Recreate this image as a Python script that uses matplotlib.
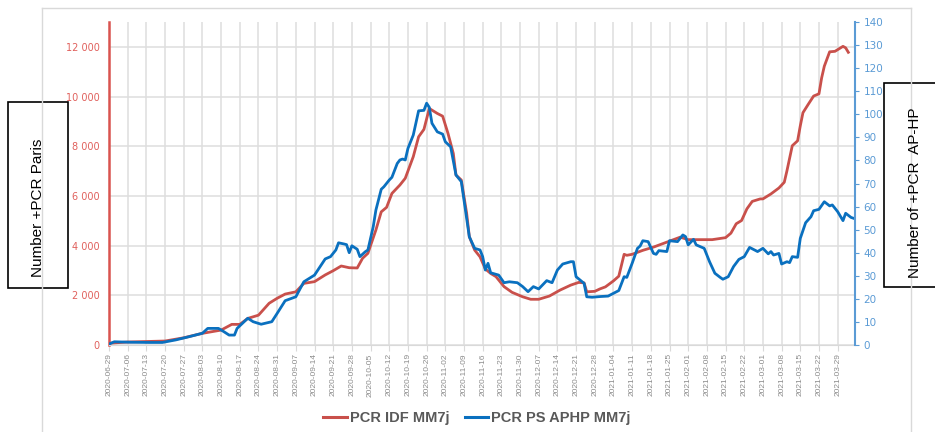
import matplotlib
matplotlib.use('Agg')
import matplotlib.pyplot as plt
import matplotlib.ticker as mticker
from matplotlib.patches import Rectangle
from matplotlib.lines import Line2D
import pandas as pd

start = pd.Timestamp('2020-06-29')

# PCR IDF MM7j (left axis) - days since 2020-06-29
idf_days = [0, 7, 14, 21, 28, 35, 42, 46, 49, 52, 56, 60, 63, 66, 70, 73, 77, 81, 84, 87,
            90, 93, 95, 97, 100, 102, 104, 106, 109, 111, 114, 116, 118, 120, 123, 125, 127,
            129, 130, 132, 134, 135, 137, 139, 141, 143, 145, 148, 151, 155, 158, 161, 165,
            169, 173, 176, 178, 179, 182, 184, 186, 189, 191, 193, 194, 196, 200, 204, 209,
            214, 217, 221, 226, 231, 233, 235, 237, 239, 241, 244, 245, 248, 251, 253, 254,
            256, 258, 259, 260, 262, 264, 266, 267, 268, 270, 272, 275, 276, 277]
idf_vals = [70, 120, 140, 160, 290, 470, 600, 830, 830, 1070, 1200, 1680, 1880, 2050, 2140,
            2480, 2550, 2820, 2990, 3180, 3110, 3100, 3490, 3690, 4630, 5360, 5540, 6100,
            6440, 6710, 7580, 8380, 8680, 9520, 9320, 9210, 8520, 7710, 6840, 6640, 5300,
            4360, 3820, 3550, 3060, 2880, 2750, 2350, 2120, 1940, 1840, 1840, 1970, 2210,
            2410, 2520, 2500, 2140, 2160, 2260, 2340, 2580, 2770, 3650, 3610, 3650, 3810,
            3940, 4140, 4340, 4240, 4240, 4240, 4320, 4500, 4880, 5010, 5480, 5780, 5880,
            5880, 6080, 6320, 6550, 7010, 8020, 8220, 8820, 9350, 9690, 10020, 10110, 10750,
            11220, 11800, 11820, 12020, 11960, 11780]

# PCR PS APHP MM7j (right axis)
aphp_days = [0, 2, 8, 15, 20, 25, 30, 35, 37, 41, 43, 45, 47, 48, 52, 54, 57, 61, 63, 66, 70,
             73, 77, 81, 83, 85, 86, 88, 89, 90, 91, 93, 94, 96, 97, 99, 100, 102, 103, 105,
             106, 108, 109, 110, 111, 112, 114, 116, 118, 119, 120, 121, 123, 125, 126, 128,
             130, 132, 135, 137, 139, 140, 141, 142, 143, 146, 148, 150, 153, 155, 157, 159,
             161, 164, 166, 168, 170, 173, 174, 175, 178, 179, 181, 184, 187, 189, 191, 193,
             194, 196, 198, 199, 200, 202, 204, 205, 206, 209, 210, 213, 215, 216, 217, 219,
             220, 223, 225, 227, 229, 230, 232, 234, 236, 238, 240, 243, 245, 247, 248, 249,
             251, 252, 254, 255, 256, 258, 259, 261, 263, 264, 266, 268, 270, 271, 273, 275,
             276, 278, 279]
aphp_vals = [0.4, 1.4, 1.2, 1.1, 1.1, 2.2, 3.6, 5.1, 7.2, 7.2, 5.8, 4.3, 4.3, 7.2, 11.6, 10.1,
             9.0, 10.1, 13.7, 19.2, 20.9, 27.4, 30.3, 37.3, 38.3, 41.2, 44.3, 43.8, 43.5, 40,
             43, 41.5, 38.3, 40.4, 41.2, 51.3, 58.5, 67.5, 68.6, 71.5, 72.7, 78.7, 80.2, 80.6,
             80.2, 85.2, 91, 101.5, 101.7, 104.8, 103, 96.1, 92.4, 91.4, 88.1, 85.9, 73.7,
             70.8, 46.9, 41.9, 41.2, 38.3, 32.5, 35.4, 31.3, 30.3, 27, 27.4, 27, 25.3, 23.1,
             25.3, 24.3, 27.9, 27, 32.5, 35.1, 36.1, 36.1, 29.6, 26.7, 20.9, 20.7, 21, 21.2,
             22.4, 23.6, 29.6, 29.3, 35.4, 41.9, 42.9, 45.2, 44.8, 39.7, 39.3, 40.9, 40.5,
             45.2, 44.8, 47.7, 47, 43.4, 45.8, 43.4, 41.9, 36.1, 31.1, 29.3, 28.5, 29.6, 34,
             37.1, 38.3, 42.3, 40.5, 41.9, 39.5, 40.5, 39, 39.7, 35.1, 36.1, 35.7, 38.3, 38,
             46.2, 53, 55.6, 58.2, 58.8, 62.1, 60.3, 60.7, 57.8, 53.9, 57.1, 55.3, 54.9]

idf_dates = start + pd.to_timedelta(idf_days, unit='D')
aphp_dates = start + pd.to_timedelta(aphp_days, unit='D')
tick_dates = pd.date_range(start, '2021-03-29', freq='7D')

red = '#C9504B'
blue = '#0A70BF'

fig = plt.figure(figsize=(9.35, 4.32), dpi=100)
ax = fig.add_axes([109 / 935, 1 - 345 / 432, 746 / 935, 323 / 432])

ax.plot(idf_dates, idf_vals, color=red, lw=2.0, solid_joinstyle='round')
ax.set_ylim(0, 13000)
ax.set_yticks(range(0, 13000, 2000))
ax.yaxis.set_major_formatter(mticker.FuncFormatter(lambda v, p: f'{int(v):,}'.replace(',', ' ')))
ax.tick_params(axis='y', length=0, pad=6.5, labelsize=7, labelcolor='#E0605C')
ax.set_xlim(start, start + pd.Timedelta(days=279.5))
ax.set_xticks(tick_dates)
ax.set_xticklabels([d.strftime('%Y-%m-%d') for d in tick_dates], rotation=90,
                   fontsize=6, color='#8C8C8C', family='Liberation Sans')
ax.tick_params(axis='x', length=4, color='#D9D9D9', pad=2)
ax.grid(True, color='#DEDEDE', lw=1.1)
ax.set_axisbelow(True)
for s in ['top', 'right']:
    ax.spines[s].set_visible(False)
ax.spines['left'].set_color('#D9534F')
ax.spines['left'].set_linewidth(1.8)
ax.spines['bottom'].set_color('#D9D9D9')

ax2 = ax.twinx()
ax2.plot(aphp_dates, aphp_vals, color=blue, lw=2.0, solid_joinstyle='round')
ax2.set_ylim(0, 140)
ax2.set_yticks(range(0, 141, 10))
ax2.tick_params(axis='y', length=3, color='#5B9BD5', labelsize=7.5, labelcolor='#5B9BD5', pad=3)
for s in ['top', 'left', 'bottom']:
    ax2.spines[s].set_visible(False)
ax2.spines['right'].set_color('#5B9BD5')
ax2.spines['right'].set_linewidth(1.5)

handles = [Line2D([], [], color=red, lw=2.2), Line2D([], [], color=blue, lw=2.2)]
fig.legend(handles, ['PCR IDF MM7j', 'PCR PS APHP MM7j'], loc='center',
           bbox_to_anchor=(477 / 935, 1 - 418 / 432), ncol=2, frameon=False,
           prop={'family': 'Liberation Sans', 'weight': 'bold', 'size': 10.5},
           labelcolor='#595959', handlelength=1.6, handletextpad=0.2, columnspacing=1.1)

# chart area frame
fig.add_artist(Line2D([42 / 935, 42 / 935], [0, 1 - 8 / 432], color='#D9D9D9', lw=1))
fig.add_artist(Line2D([911 / 935, 911 / 935], [0, 1 - 8 / 432], color='#D9D9D9', lw=1))
fig.add_artist(Line2D([42 / 935, 911 / 935], [1 - 8 / 432, 1 - 8 / 432], color='#D9D9D9', lw=1))

# axis title boxes
fig.add_artist(Rectangle((8 / 935, 1 - 288 / 432), 60 / 935, 186 / 432, transform=fig.transFigure,
                         facecolor='white', edgecolor='black', lw=1.2))
fig.text(38 / 935, 1 - 208 / 432, 'Number +PCR Paris', rotation=90, ha='center', va='center',
         fontsize=11, family='Liberation Sans')
fig.add_artist(Rectangle((884 / 935, 1 - 287 / 432), 60 / 935, 204 / 432, transform=fig.transFigure,
                         facecolor='white', edgecolor='black', lw=1.2))
fig.text(915 / 935, 1 - 193 / 432, 'Number of +PCR  AP-HP', rotation=90, ha='center', va='center',
         fontsize=11, family='Liberation Sans')

fig.savefig('out.png', dpi=100)
